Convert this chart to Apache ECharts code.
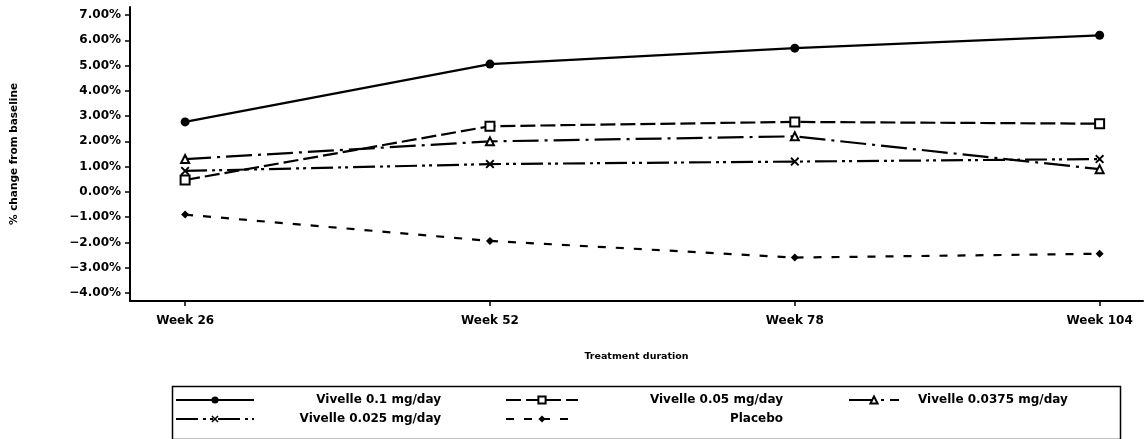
<!DOCTYPE html>
<html>
<head>
<meta charset="utf-8">
<script src="https://cdn.jsdelivr.net/npm/echarts@6/dist/echarts.min.js"></script>
<style>
html,body{margin:0;padding:0;background:#fff;}
#chart{width:1148px;height:439px;}
</style>
</head>
<body>
<div id="chart"></div>
<script>
// ---- data ----
var weeks = [26, 52, 78, 104];
var weekLabels = ['Week 26', 'Week 52', 'Week 78', 'Week 104'];
var yTicks = [-4, -3, -2, -1, 0, 1, 2, 3, 4, 5, 6, 7];
var seriesNames = ['Vivelle 0.1 mg/day', 'Vivelle 0.05 mg/day', 'Vivelle 0.0375 mg/day', 'Vivelle 0.025 mg/day', 'Placebo'];
var v01 = [2.77, 5.06, 5.69, 6.20];
var v005 = [0.47, 2.60, 2.77, 2.70];
var v00375 = [1.30, 2.00, 2.20, 0.90];
var v0025 = [0.83, 1.10, 1.20, 1.30];
var placebo = [-0.90, -1.94, -2.60, -2.45];

function pts(vals) { return weeks.map(function (w, i) { return [w, vals[i]]; }); }

var FONT = 'DejaVu Sans';
var xPath = 'path://M0,1.5L1.5,0L5,3.5L8.5,0L10,1.5L6.5,5L10,8.5L8.5,10L5,6.5L1.5,10L0,8.5L3.5,5Z';

var chart = echarts.init(document.getElementById('chart'));

function mkLegend(name, left, top, iconW, textWidth, align, padLeft) {
  return {
    data: [name], left: left, top: top, itemWidth: iconW, itemHeight: 9, itemGap: 0,
    padding: 0,
    formatter: function (n) { return '{t|' + n + '}'; },
    textStyle: {
      color: '#000',
      rich: { t: { fontFamily: FONT, fontWeight: 'bold', fontSize: 12, color: '#000', width: textWidth, align: align, padding: [0, 0, 0, padLeft || 0] } }
    }
  };
}

var option = {
  backgroundColor: '#fff',
  animation: false,
  grid: { left: 130, right: 5, top: 7, bottom: 138, containLabel: false },
  xAxis: {
    type: 'value', min: 21.3, max: 107.7,
    name: 'Treatment duration', nameLocation: 'middle', nameGap: 51,
    nameTextStyle: { fontFamily: FONT, fontWeight: 'bold', fontSize: 9.5, color: '#000' },
    axisLine: { show: true, onZero: false, lineStyle: { color: '#000', width: 2 } },
    axisTick: { show: true, length: 5, customValues: weeks, lineStyle: { color: '#000', width: 1.5 } },
    axisLabel: {
      customValues: weeks, margin: 14,
      fontFamily: FONT, fontWeight: 'bold', fontSize: 12, color: '#000',
      formatter: function (v) { var i = weeks.indexOf(v); return i >= 0 ? weekLabels[i] : ''; }
    },
    splitLine: { show: false }
  },
  yAxis: {
    type: 'value', min: -4.32, max: 7.32,
    name: '% change from baseline', nameLocation: 'middle', nameGap: 110, nameRotate: 90,
    nameTextStyle: { fontFamily: FONT, fontWeight: 'bold', fontSize: 10.5, color: '#000' },
    axisLine: { show: true, lineStyle: { color: '#000', width: 2 } },
    axisTick: { show: true, length: 5, customValues: yTicks, lineStyle: { color: '#000', width: 1.5 } },
    axisLabel: {
      customValues: yTicks, margin: 9,
      fontFamily: FONT, fontWeight: 'bold', fontSize: 12, color: '#000',
      formatter: function (v) { return (v < 0 ? '\u2212' : '') + Math.abs(v).toFixed(2) + '%'; }
    },
    splitLine: { show: false }
  },
  legend: [
    mkLegend(seriesNames[0], 175, 394, 78, 182, 'right'),
    mkLegend(seriesNames[3], 175, 413, 78, 182, 'right'),
    mkLegend(seriesNames[1], 505, 394, 72, 200, 'right'),
    mkLegend(seriesNames[4], 505, 413, 72, 200, 'right'),
    mkLegend(seriesNames[2], 848, 394, 50, 200, 'left', 14)
  ],
  graphic: [{
    type: 'rect', left: 170, top: 384,
    shape: { width: 948, height: 53 },
    style: { fill: 'none', stroke: '#000', lineWidth: 1.5 }
  }],
  series: [
    {
      name: seriesNames[0], type: 'line', data: pts(v01),
      symbol: 'circle', symbolSize: 9,
      lineStyle: { color: '#000', width: 2.2, type: 'solid' },
      itemStyle: { color: '#000' }
    },
    {
      name: seriesNames[1], type: 'line', data: pts(v005),
      symbol: 'emptyRect', symbolSize: 9,
      lineStyle: { color: '#000', width: 2.2, type: [15, 5] },
      itemStyle: { color: '#000', borderWidth: 2 }
    },
    {
      name: seriesNames[2], type: 'line', data: pts(v00375),
      symbol: 'emptyTriangle', symbolSize: 8,
      lineStyle: { color: '#000', width: 2.2, type: [26, 6, 3, 6] },
      itemStyle: { color: '#000', borderWidth: 2 }
    },
    {
      name: seriesNames[3], type: 'line', data: pts(v0025),
      symbol: xPath, symbolSize: 9,
      lineStyle: { color: '#000', width: 2.2, type: [22, 5, 3, 4, 3, 5] },
      itemStyle: { color: '#000' }
    },
    {
      name: seriesNames[4], type: 'line', data: pts(placebo),
      symbol: 'diamond', symbolSize: 8,
      lineStyle: { color: '#000', width: 2.2, type: [8, 10] },
      itemStyle: { color: '#000' }
    }
  ]
};
chart.setOption(option);
</script>
</body>
</html>
